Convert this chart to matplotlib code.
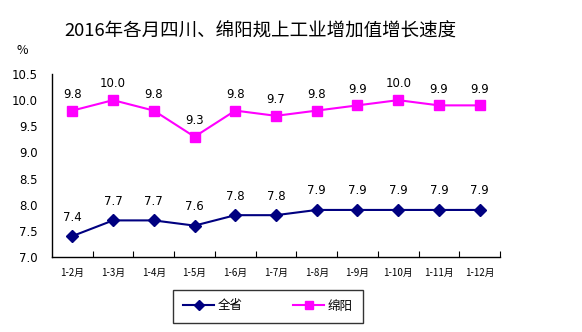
import matplotlib
matplotlib.use("Agg")
import matplotlib.pyplot as plt

plt.rcParams['font.family'] = ['Noto Sans CJK SC', 'DejaVu Sans']

categories = ["1-2月", "1-3月", "1-4月", "1-5月", "1-6月", "1-7月", "1-8月", "1-9月", "1-10月", "1-11月", "1-12月"]
sichuan = [7.4, 7.7, 7.7, 7.6, 7.8, 7.8, 7.9, 7.9, 7.9, 7.9, 7.9]
mianyang = [9.8, 10.0, 9.8, 9.3, 9.8, 9.7, 9.8, 9.9, 10.0, 9.9, 9.9]
yticks = [7.0, 7.5, 8.0, 8.5, 9.0, 9.5, 10.0, 10.5]

W, H = 582, 332
fig = plt.figure(figsize=(W/100, H/100), dpi=100)
ax = fig.add_axes([52/W, 1-257/H, (500-52)/W, (257-74)/H])

x = list(range(len(categories)))
ax.plot(x, sichuan, color='#000080', marker='D', markersize=6, linewidth=1.5, label='全省')
ax.plot(x, mianyang, color='#FF00FF', marker='s', markersize=7, linewidth=1.5, label='绵阳')

for xi, v in zip(x, sichuan):
    ax.annotate(f"{v:.1f}", (xi, v), xytext=(0, 9), textcoords='offset points',
                ha='center', va='bottom', fontsize=8.5, family='DejaVu Sans')
for xi, v in zip(x, mianyang):
    ax.annotate(f"{v:.1f}", (xi, v), xytext=(0, 7), textcoords='offset points',
                ha='center', va='bottom', fontsize=8.5, family='DejaVu Sans')

ax.set_xlim(-0.5, len(categories)-0.5)
ax.set_ylim(7.0, 10.5)
ax.set_yticks(yticks)
ax.set_yticklabels([f"{t:.1f}" for t in yticks], fontsize=8.5, family='DejaVu Sans')
ax.tick_params(axis='y', length=0, pad=10)
ax.set_xticks([i - 0.5 for i in range(1, len(categories)+1)])
ax.set_xticklabels([])
ax.set_xticks(x, minor=True)
ax.set_xticklabels(categories, minor=True, fontsize=7)
ax.tick_params(axis='x', which='major', direction='in', length=4, color='black')
ax.tick_params(axis='x', which='minor', length=0, pad=8)
for s in ['top', 'right']:
    ax.spines[s].set_visible(False)
for s in ['left', 'bottom']:
    ax.spines[s].set_color('black')
    ax.spines[s].set_linewidth(1.0)

fig.text(260/W, 1-32/H, "2016年各月四川、绵阳规上工业增加值增长速度", ha='center', va='center', fontsize=13.3)
fig.text(22/W, 1-50/H, "%", ha='center', va='center', fontsize=9)

leg = fig.legend(loc='center', bbox_to_anchor=(268/W, 1-306/H), ncol=2, frameon=True,
                 fancybox=False, edgecolor='black', fontsize=9, columnspacing=4,
                 handlelength=2.5, borderpad=0.8, handletextpad=0.3, markerscale=0.8)
leg.get_frame().set_linewidth(1.0)

fig.savefig("out.png", dpi=100)
